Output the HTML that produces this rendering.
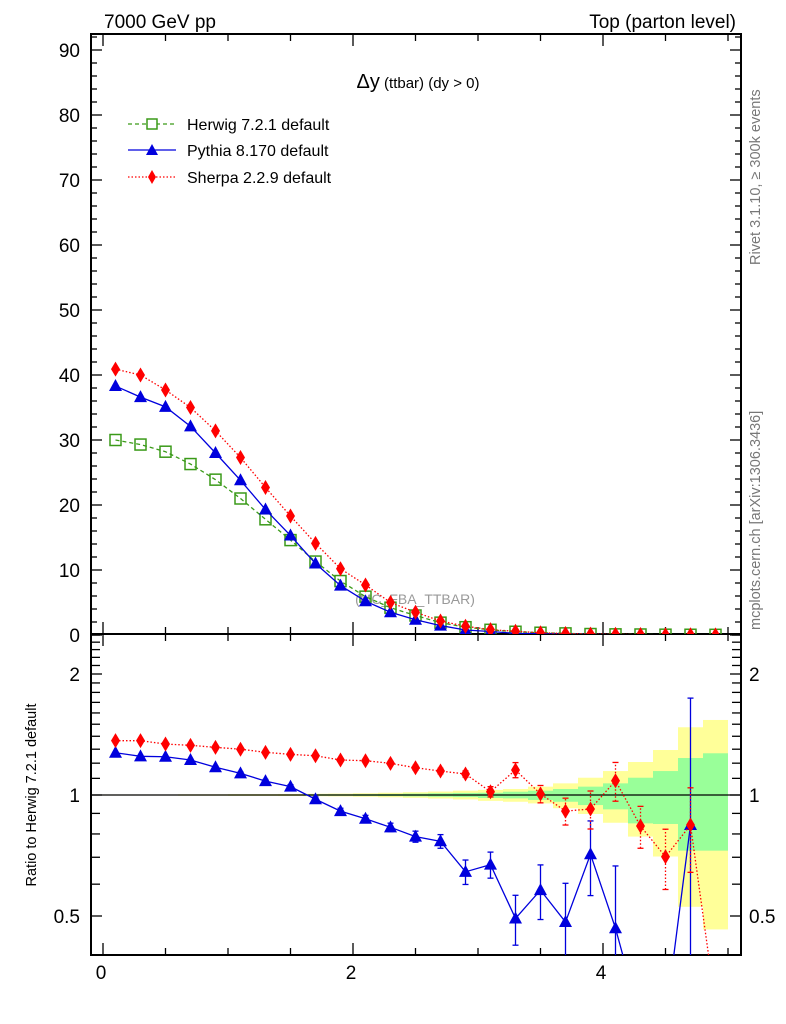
<!DOCTYPE html>
<html><head><meta charset="utf-8">
<style>
html,body{margin:0;padding:0;background:#fff;width:786px;height:1024px;overflow:hidden;}
svg{display:block;font-family:"Liberation Sans",Arial,sans-serif;}
</style></head>
<body>
<svg id="chart" width="786" height="1024" viewBox="0 0 786 1024" xmlns="http://www.w3.org/2000/svg">
<text x="104" y="28" font-size="19">7000 GeV pp</text>
<text x="736" y="28" font-size="19" text-anchor="end">Top (parton level)</text>
<text transform="translate(760,265) rotate(-90)" font-size="14.5" fill="#777">Rivet 3.1.10, ≥ 300k events</text>
<text transform="translate(760,630) rotate(-90)" font-size="14.5" fill="#777">mcplots.cern.ch [arXiv:1306.3436]</text>
<text transform="translate(36,795) rotate(-90)" font-size="14.5" text-anchor="middle">Ratio to Herwig 7.2.1 default</text>
<text x="415" y="604" font-size="14" fill="#999" text-anchor="middle">(MC_FBA_TTBAR)</text>
<g id="bands"></g>
<g id="axes"></g>
<g id="series"></g>
<text x="418" y="88" font-size="15" text-anchor="middle"><tspan font-size="20">Δy</tspan> (ttbar) (dy &gt; 0)</text>
<g>
 <g>
  <line x1="128" y1="124" x2="176" y2="124" stroke="#3a9a18" stroke-width="1.3" stroke-dasharray="4,3"/>
  <rect x="147" y="119" width="10" height="10" fill="#fff" stroke="#3a9a18" stroke-width="1.5"/>
  <text x="187" y="130" font-size="16">Herwig 7.2.1 default</text>
 </g>
 <g>
  <line x1="128" y1="150" x2="176" y2="150" stroke="#0000dd" stroke-width="1.3"/>
  <polygon points="152,144 146,155 158,155" fill="#0000dd"/>
  <text x="187" y="156" font-size="16">Pythia 8.170 default</text>
 </g>
 <g>
  <line x1="128" y1="177" x2="176" y2="177" stroke="#ff0000" stroke-width="1.3" stroke-dasharray="1.5,2"/>
  <polygon points="152,170 156,177 152,184 148,177" fill="#ff0000"/>
  <text x="187" y="183" font-size="16">Sherpa 2.2.9 default</text>
 </g>
</g>
</svg>
<script>
const binCenters=[0.1,0.3,0.5,0.7,0.9,1.1,1.3,1.5,1.7,1.9,2.1,2.3,2.5,2.7,2.9,3.1,3.3,3.5,3.7,3.9,4.1,4.3,4.5,4.7,4.9];
const herwig=[30.0,29.3,28.2,26.3,23.9,21.0,17.8,14.6,11.3,8.3,5.9,4.2,3.0,1.9,1.2,0.8,0.5,0.35,0.25,0.15,0.1,0.08,0.05,0.04,0.03];
const pythia=[38.3,36.6,35.1,32.1,28.0,23.8,19.3,15.3,11.0,7.6,5.2,3.5,2.35,1.45,0.77,0.54,0.25,0.2,0.12,0.11,0.05,0.02,0.01,0.034,0];
const sherpa=[40.9,40.0,37.7,35.0,31.4,27.3,22.7,18.3,14.1,10.2,7.7,5.0,3.5,2.15,1.35,0.82,0.58,0.35,0.23,0.14,0.11,0.07,0.035,0.034,0.01];
const ratioPythia=[1.274,1.248,1.245,1.222,1.172,1.132,1.083,1.049,0.976,0.912,0.873,0.831,0.788,0.767,0.644,0.671,0.493,0.580,0.483,0.712,0.466,0.2,0.2,0.842,null];
const ratioPythiaErr=[0.006,0.006,0.006,0.007,0.008,0.009,0.01,0.012,0.013,0.015,0.017,0.02,0.025,0.03,0.045,0.05,0.07,0.09,0.12,0.15,0.2,0,0,0.9,0];
const ratioSherpa=[1.365,1.365,1.339,1.329,1.314,1.30,1.277,1.262,1.252,1.222,1.217,1.199,1.169,1.147,1.128,1.019,1.154,1.006,0.912,0.923,1.085,0.837,0.702,0.842,0.3];
const ratioSherpaErr=[0.005,0.005,0.005,0.006,0.006,0.007,0.008,0.009,0.01,0.011,0.012,0.014,0.016,0.018,0.02,0.03,0.05,0.05,0.07,0.1,0.12,0.1,0.12,0.2,0];
const yellowUp=[1.003,1.003,1.003,1.004,1.004,1.005,1.005,1.006,1.007,1.008,1.010,1.013,1.016,1.020,1.025,1.030,1.035,1.049,1.069,1.104,1.147,1.208,1.294,1.474,1.537];
const yellowDn=[0.997,0.997,0.997,0.996,0.996,0.995,0.995,0.994,0.993,0.992,0.990,0.987,0.984,0.980,0.975,0.967,0.962,0.953,0.927,0.897,0.853,0.788,0.703,0.527,0.463];
const greenUp=[1.002,1.002,1.002,1.002,1.002,1.003,1.003,1.003,1.004,1.004,1.005,1.006,1.008,1.010,1.012,1.013,1.019,1.025,1.035,1.049,1.069,1.104,1.147,1.236,1.27];
const greenDn=[0.998,0.998,0.998,0.998,0.998,0.997,0.997,0.997,0.996,0.996,0.995,0.994,0.992,0.990,0.988,0.983,0.981,0.972,0.962,0.944,0.921,0.850,0.847,0.727,0.727];
const mainTicks=[0,10,20,30,40,50,60,70,80,90];
const ratioTickLabels=[0.5,1,2];
const xTickLabels=[0,2,4];

const NS="http://www.w3.org/2000/svg";
const L=91,R=741,MT=34,MB=634,RT=634,RB=955,BW=0.2;
const xs=v=>103+125*v;
const ym=v=>635-6.5*v;
const yr=v=>Math.min(1020,795-121*Math.log2(v));
function mk(parent,tag,attrs){const e=document.createElementNS(NS,tag);for(const k in attrs)e.setAttribute(k,attrs[k]);parent.appendChild(e);return e;}
const bands=document.getElementById('bands'),axes=document.getElementById('axes'),ser=document.getElementById('series');

const defs=mk(document.getElementById('chart'),'defs',{});
const cp=mk(defs,'clipPath',{id:'rclip'});mk(cp,'rect',{x:L,y:RT,width:R-L,height:RB-RT});
const cp2=mk(defs,'clipPath',{id:'mclip'});mk(cp2,'rect',{x:L,y:MT,width:R-L,height:MB-MT});
bands.setAttribute('clip-path','url(#rclip)');

binCenters.forEach((c,i)=>{
  const x0=xs(c-BW/2),w=xs(c+BW/2)-x0;
  const y=mk(bands,'rect',{x:x0,y:yr(yellowUp[i]),width:w,height:yr(yellowDn[i])-yr(yellowUp[i]),fill:'#ffff99'});
  
  
  const g=mk(bands,'rect',{x:x0,y:yr(greenUp[i]),width:w,height:yr(greenDn[i])-yr(greenUp[i]),fill:'#99ff99'});
  
  
});
const refl=mk(bands,'line',{x1:L,y1:yr(1),x2:R,y2:yr(1),stroke:'#000','stroke-width':1.3});



const f1=mk(axes,'rect',{x:L,y:MT,width:R-L,height:MB-MT,fill:'none',stroke:'#000','stroke-width':2});


const f2=mk(axes,'rect',{x:L,y:RT,width:R-L,height:RB-RT,fill:'none',stroke:'#000','stroke-width':2});



for(let v=0;v<=92;v+=2){const maj=v%10===0,len=maj?11:6,y=ym(v);
  mk(axes,'line',{x1:L,y1:y,x2:L+len,y2:y,stroke:'#000','stroke-width':1.3});
  mk(axes,'line',{x1:R,y1:y,x2:R-len,y2:y,stroke:'#000','stroke-width':1.3});}
mainTicks.forEach(v=>{const t=mk(axes,'text',{x:80,y:ym(v)+7,'font-size':19,'text-anchor':'end'});t.textContent=v;
  
  });
[0.5,0.6,0.7,0.8,0.9,1,1.1,1.2,1.3,1.4,1.5,1.6,1.7,1.8,1.9,2,2.1,2.2,2.3,2.4,2.5].forEach(v=>{const y=yr(v);if(y<RT||y>RB)return;const len=(v===0.5||v===1||v===2)?11:9;
  mk(axes,'line',{x1:L,y1:y,x2:L+len,y2:y,stroke:'#000','stroke-width':1.3});
  mk(axes,'line',{x1:R,y1:y,x2:R-len,y2:y,stroke:'#000','stroke-width':1.3});});
ratioTickLabels.forEach(v=>{
  const t=mk(axes,'text',{x:80,y:yr(v)+7,'font-size':19,'text-anchor':'end'});t.textContent=v;
  
  
  const t2=mk(axes,'text',{x:749,y:yr(v)+7,'font-size':19});t2.textContent=v;
  
  });
for(let v=0;v<=5.01;v+=0.5){const maj=Math.abs(v-Math.round(v/2)*2)<1e-6,len=maj?12:7,x=xs(v);
  [[MT,1],[MB,-1],[RT,1],[RB,-1]].forEach(([y0,d])=>mk(axes,'line',{x1:x,y1:y0,x2:x,y2:y0+d*len,stroke:'#000','stroke-width':1.3}));}
xTickLabels.forEach(v=>{const t=mk(axes,'text',{x:xs(v)-2,y:979,'font-size':19,'text-anchor':'middle'});t.textContent=v;
  
  });

function drawSeries(vals,yf,color,dash,marker,name,clip,errs){
  const g=mk(ser,'g',{'clip-path':clip});
  
  
  let pts=[];vals.forEach((v,i)=>{if(v===null){return;}pts.push(xs(binCenters[i])+','+yf(v));});
  mk(g,'polyline',{points:pts.join(' '),fill:'none',stroke:color,'stroke-width':1.3,'stroke-dasharray':dash});
  vals.forEach((v,i)=>{if(v===null)return;const x=xs(binCenters[i]),y=yf(v);
    if(y>1000)return;
    if(errs&&errs[i]>0){const y1=Math.min(RB,yf(Math.max(v-errs[i],0.01))),y2=Math.max(RT,yf(v+errs[i]));
      mk(g,'line',{x1:x,y1:y1,x2:x,y2:y2,stroke:color,'stroke-width':1.3,'stroke-dasharray':dash});
      if(y1<RB)mk(g,'line',{x1:x-3,y1:y1,x2:x+3,y2:y1,stroke:color,'stroke-width':1.3});
      mk(g,'line',{x1:x-3,y1:y2,x2:x+3,y2:y2,stroke:color,'stroke-width':1.3});}
    let m;
    if(marker==='sq')m=mk(g,'rect',{x:x-5.5,y:y-5.5,width:11,height:11,fill:'none',stroke:color,'stroke-width':1.5});
    else if(marker==='tri')m=mk(g,'polygon',{points:`${x},${y-7} ${x-6.5},${y+5} ${x+6.5},${y+5}`,fill:color});
    else m=mk(g,'polygon',{points:`${x},${y-7.5} ${x+4.5},${y} ${x},${y+7.5} ${x-4.5},${y}`,fill:color});
    
    
  });
}
drawSeries(herwig,ym,'#3a9a18','4,3','sq','herwig-series','url(#mclip)');
drawSeries(pythia,ym,'#0000dd','','tri','pythia-series','url(#mclip)');
drawSeries(sherpa,ym,'#ff0000','1.5,2','dia','sherpa-series','url(#mclip)');
drawSeries(ratioPythia,yr,'#0000dd','','tri','pythia-ratio-series','url(#rclip)',ratioPythiaErr);
drawSeries(ratioSherpa,yr,'#ff0000','1.5,2','dia','sherpa-ratio-series','url(#rclip)',ratioSherpaErr);
</script>
</body></html>
